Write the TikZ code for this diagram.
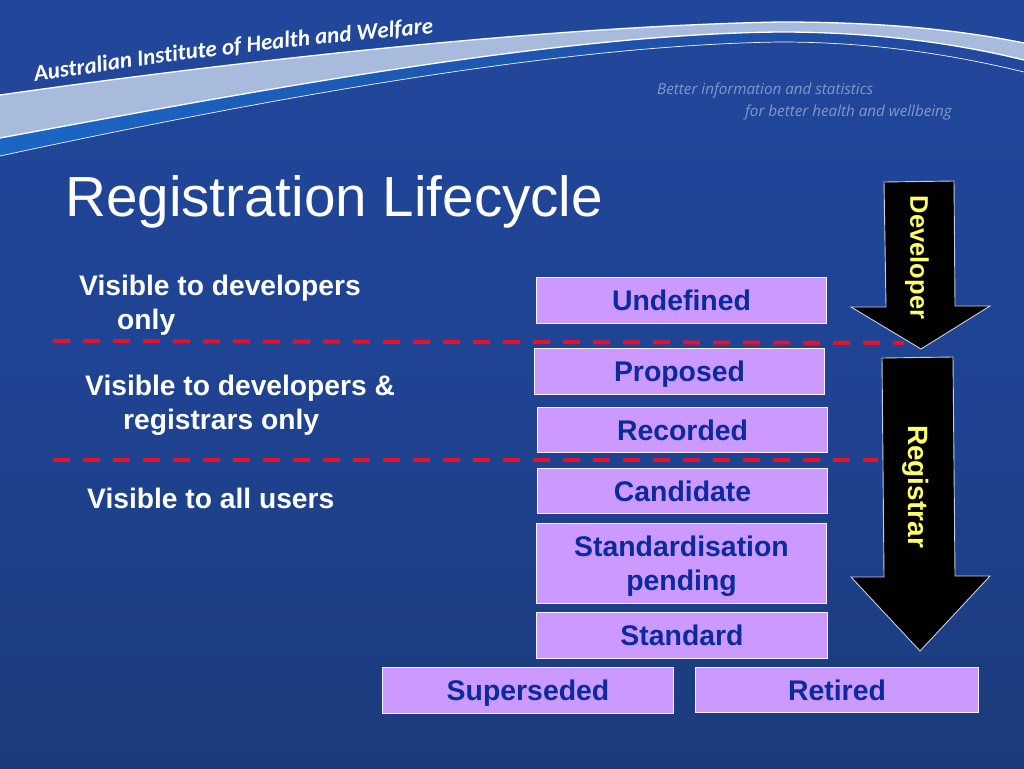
\documentclass[tikz,border=0pt]{standalone}
\usepackage{fontspec}
\setmainfont{Liberation Sans}
\newfontfamily\logofont{Carlito}
\newfontfamily\mottofont{Open Sans}
\usepackage{tikz}
\usetikzlibrary{positioning, decorations.text}

\definecolor{slidetop}{HTML}{21479C}
\definecolor{slidebottom}{HTML}{1B3B7C}
\definecolor{bandlight}{HTML}{A9BBDC}
\definecolor{bandblue}{HTML}{1A66C4}
\definecolor{boxfill}{HTML}{CC99FF}
\definecolor{boxtext}{HTML}{0B2A9B}
\definecolor{mottotext}{HTML}{8497C8}
\definecolor{arrowtext}{HTML}{FFFF66}
\definecolor{arrowedge}{HTML}{C5D0E6}
\definecolor{cutline}{HTML}{E8102A}

\tikzset{
    statebox/.style={draw=white!85!boxfill, line width=0.8pt, fill=boxfill, text=boxtext, inner sep=0pt,
        text depth=0pt, align=center, font=\fontsize{28.4}{34}\selectfont\bfseries},
    scopetext/.style={text=white, inner sep=0pt, align=left, anchor=west, font=\fontsize{28.2}{34}\selectfont\bfseries},
    roletext/.style={text=arrowtext, inner sep=0pt, rotate=-90, font=\fontsize{28}{30}\selectfont\bfseries},
    rolearrow/.style={draw=arrowedge, line width=0.9pt, fill=black, line join=miter},
    cutdash/.style={draw=cutline, line width=4pt, dash pattern=on 17pt off 13pt},
    mottotext/.style={text=mottotext, inner sep=0pt, anchor=base west, font=\mottofont\fontsize{15.2}{18}\selectfont\itshape}
}

\begin{document}
\begin{tikzpicture}[x=1pt, y=-1pt]
    \useasboundingbox (0, 0) rectangle (1024, 768);
    \shade [top color=slidetop, bottom color=slidebottom, middle color=slidetop!70!slidebottom] (0, 0) rectangle (1024, 768);

    % header band
    \shade [left color=bandblue, right color=slidetop] (0, 138) .. controls (260, 90) and (560, 34) .. (780, 32)
        .. controls (870, 32) and (950, 42) .. (1024, 60) -- (1024, 72)
        .. controls (950, 54) and (870, 42) .. (780, 42)
        .. controls (560, 45) and (260, 100) .. (0, 156) -- cycle;
    \fill [bandlight] (0, 95) .. controls (260, 58) and (560, 26) .. (780, 22)
        .. controls (870, 22) and (950, 28) .. (1024, 43) -- (1024, 60)
        .. controls (950, 42) and (870, 32) .. (780, 32)
        .. controls (560, 34) and (260, 90) .. (0, 138) -- cycle;
    \draw [white, line width=1.3pt] (0, 95) .. controls (260, 58) and (560, 26) .. (780, 22)
        .. controls (870, 22) and (950, 28) .. (1024, 43);
    \draw [white, line width=1.3pt] (0, 138) .. controls (260, 90) and (560, 34) .. (780, 32)
        .. controls (870, 32) and (950, 42) .. (1024, 60);
    \draw [white!85!bandlight, line width=0.7pt] (0, 156) .. controls (260, 100) and (560, 45) .. (780, 42)
        .. controls (870, 42) and (950, 54) .. (1024, 72);

    \path [decorate, decoration={text along path, text align=left,
        text={|\logofont\fontsize{23}{28}\selectfont\bfseries\itshape\color{white}|Australian Institute of Health and Welfare}}]
        (35, 82) .. controls (190, 57) and (340, 40) .. (500, 28);

    \node [mottotext] (motto1) at (657, 94) {Better information and statistics};
    \node [mottotext] (motto2) at (745, 116) {for better health and wellbeing};

    \node [text=white, inner sep=0pt, anchor=base west, font=\fontsize{56.6}{68}\selectfont] (title) at (65, 216) {Registration Lifecycle};

    % scope labels
    \node [scopetext] (scopedev) at (79, 305) {Visible to developers\\\hspace*{38pt}only};
    \node [scopetext] (scopereg) at (85, 405) {Visible to developers \&\\\hspace*{38pt}registrars only};
    \node [scopetext] (scopeall) at (87, 498) {Visible to all users};

    % dashes
    \coordinate (cut1a) at (53, 341);
    \coordinate (cut1b) at (904, 343);
    \coordinate (cut2a) at (53, 460);
    \coordinate (cut2b) at (878, 460);
    \draw [cutdash] (cut1a) -- (cut1b);
    \draw [cutdash] (cut2a) -- (cut2b);

    % states
    \node [statebox, minimum width=290pt, minimum height=46pt] (undefined) at (681.5, 300.5) {Undefined};
    \node [statebox, minimum width=290pt, minimum height=46pt] (proposed) at (679.5, 371.5) {Proposed};
    \node [statebox, minimum width=290pt, minimum height=45pt] (recorded) at (682.5, 430) {Recorded};
    \node [statebox, minimum width=290pt, minimum height=45pt] (candidate) at (682.5, 491) {Candidate};
    \node [statebox, minimum width=290pt, minimum height=80pt] (pending) at (681.5, 563.5) {Standardisation\\pending};
    \node [statebox, minimum width=291pt, minimum height=46pt] (standard) at (682, 635.5) {Standard};
    \node [statebox, minimum width=291pt, minimum height=46pt] (superseded) at (528, 690.5) {Superseded};
    \node [statebox, minimum width=283pt, minimum height=45pt] (retired) at (837, 690) {Retired};

    % role arrows
    \draw [rolearrow] (884, 182) -- (954, 181) -- (955, 306) -- (990, 306) -- (921, 349) -- (851, 307) -- (886, 307) -- cycle;
    \draw [rolearrow] (882, 358) -- (953, 357) -- (955, 576) -- (990, 576) -- (920, 651) -- (851, 577) -- (884, 577) -- cycle;
    \node [roletext, font=\fontsize{25.5}{30}\selectfont\bfseries] (developer) at (917, 257.5) {Developer};
    \node [roletext] (registrar) at (916, 486.5) {Registrar};
\end{tikzpicture}
\end{document}
